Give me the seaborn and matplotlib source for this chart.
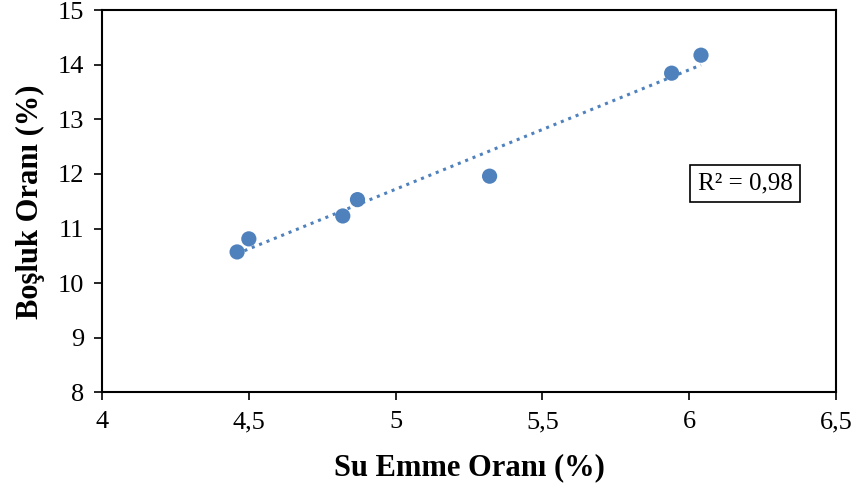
import numpy as np
import pandas as pd
import matplotlib
matplotlib.use('Agg')
import matplotlib.pyplot as plt
import seaborn as sns

su_emme = [4.46, 4.50, 4.82, 4.87, 5.32, 5.94, 6.04]
bosluk = [10.57, 10.81, 11.23, 11.53, 11.96, 13.85, 14.18]
r2_text = 'R² = 0,98'
x_ticks = [4, 4.5, 5, 5.5, 6, 6.5]
x_labels = ['4', '4,5', '5', '5,5', '6', '6,5']
y_ticks = [8, 9, 10, 11, 12, 13, 14, 15]

df = pd.DataFrame({'su': su_emme, 'bosluk': bosluk})

sns.set_style('white')
plt.rcParams['font.family'] = ['Liberation Serif', 'DejaVu Serif']
plt.rcParams['text.color'] = 'black'
plt.rcParams['axes.labelcolor'] = 'black'
plt.rcParams['xtick.color'] = 'black'
plt.rcParams['ytick.color'] = 'black'

fig = plt.figure(figsize=(8.56, 4.88), dpi=100)
ax = fig.add_axes([0.1192, 0.1967, 0.8575, 0.7818])

blue = '#4F81BD'
sns.regplot(x='su', y='bosluk', data=df, ax=ax, ci=None,
            scatter_kws={'s': 120, 'color': blue, 'edgecolor': 'none', 'alpha': 1, 'zorder': 3},
            line_kws={'color': blue, 'linestyle': (0, (1, 1.6)), 'linewidth': 2.2})

ax.set_xlim(4, 6.5)
ax.set_ylim(8, 15)
ax.set_xticks(x_ticks)
ax.set_xticklabels(x_labels)
ax.set_yticks(y_ticks)
ax.tick_params(axis='both', labelsize=19, length=6, width=1.2, direction='out',
               color='black', labelcolor='black', bottom=True, left=True)
ax.tick_params(axis='x', pad=8)
ax.tick_params(axis='y', pad=7)
for sp in ax.spines.values():
    sp.set_color('black')
    sp.set_linewidth(1.5)

ax.set_xlabel('Su Emme Oranı (%)', fontsize=22, fontweight='bold', labelpad=14)
ax.set_ylabel('Boşluk Oranı (%)', fontsize=22, fontweight='bold', labelpad=9)

ax.text(0.876, 0.547, r2_text, transform=ax.transAxes, fontsize=18,
        ha='center', va='center',
        bbox=dict(boxstyle='square,pad=0.3', facecolor='white', edgecolor='black', linewidth=1.2))

fig.savefig('out.png', dpi=100)
